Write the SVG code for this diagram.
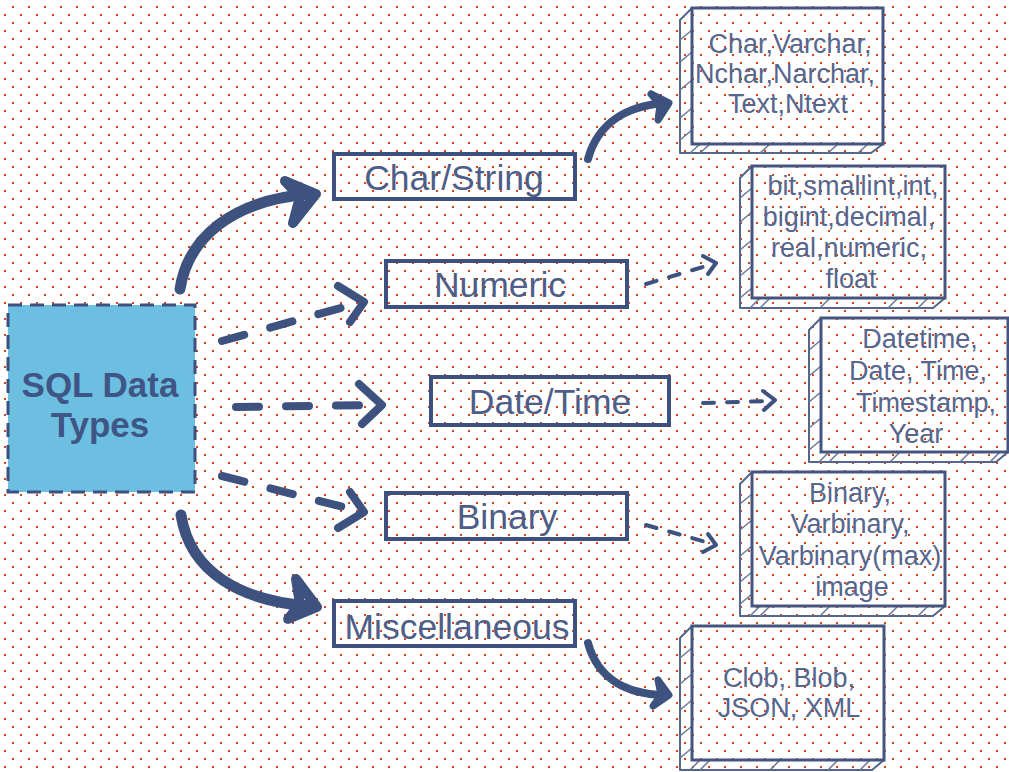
<svg xmlns="http://www.w3.org/2000/svg" width="1009" height="772" viewBox="0 0 1009 772">
  <defs>
    <pattern id="dots" width="16" height="16" patternUnits="userSpaceOnUse">
      <rect x="12" y="6" width="2" height="2" fill="#d4441c"/>
      <rect x="4" y="14" width="2" height="2" fill="#d4441c"/>
    </pattern>
    <style>
      .lbl{fill:none;stroke:#3e5080;stroke-width:4}
      .lt{font-family:"Liberation Sans",Arial,sans-serif;font-size:35.5px;fill:#4e5e88;text-anchor:middle}
      .rt{font-family:"Liberation Sans",Arial,sans-serif;font-size:27px;fill:#56668e;text-anchor:middle}
      .face{fill:none;stroke:#44557f;stroke-width:3}
      .slab{fill:none;stroke:#55668d;stroke-width:2;stroke-linejoin:round}
      .hatch{fill:none;stroke:#6a7898;stroke-width:1.5}
      .thick{fill:none;stroke:#3e5280;stroke-linecap:round;stroke-linejoin:round}
      .dash1{fill:none;stroke:#3e5280;stroke-width:8;stroke-linecap:round;stroke-dasharray:23 27}
      .dash2{fill:none;stroke:#3e5280;stroke-width:4;stroke-linecap:round;stroke-dasharray:11 13}
      .head1{fill:none;stroke:#3e5280;stroke-width:8;stroke-linecap:round;stroke-linejoin:round}
      .head2{fill:none;stroke:#3e5280;stroke-width:4;stroke-linecap:round;stroke-linejoin:round}
    </style>
  </defs>
  <rect width="1009" height="772" fill="#ffffff"/>
  <rect width="1009" height="772" fill="url(#dots)"/>

  <g id="connectors">
    <path class="thick" stroke-width="11" d="M180,289 C188,238 232,200 310,194"/>
    <polyline class="thick" stroke-width="10" fill="#3e5280" points="285,181 316,194 293,223 300,197 285,181"/>
    <path class="thick" stroke-width="11" d="M181,515 C190,572 240,601 310,606"/>
    <polyline class="thick" stroke-width="10" fill="#3e5280" points="296,579 317,607 288,619 300,604 296,579"/>
    <path class="thick" stroke-width="8" d="M588,159 C598,122 628,106 664,103"/>
    <polyline class="thick" stroke-width="7" fill="#3e5280" points="651,94 669,103 658,120 660,105 651,94"/>
    <path class="thick" stroke-width="8" d="M588,643 C598,680 628,694 664,695"/>
    <polyline class="thick" stroke-width="7" fill="#3e5280" points="658,680 669,695 653,706 661,695 658,680"/>
    <path class="dash1" d="M222,341 L355,304"/>
    <polyline class="head1" points="338,286 364,302 350,322"/>
    <path class="dash1" d="M236,407 L375,405"/>
    <polyline class="head1" points="359,384 382,405 362,424"/>
    <path class="dash1" d="M222,476 L355,510"/>
    <polyline class="head1" points="350,492 364,512 338,528"/>
    <path class="dash2" d="M646,284 L713,264"/>
    <polyline class="head2" points="703,256 716,263 708,274"/>
    <path class="dash2" d="M703,403 L772,401"/>
    <polyline class="head2" points="763,391 775,400 764,410"/>
    <path class="dash2" d="M646,525 L713,544"/>
    <polyline class="head2" points="708,534 716,545 703,552"/>
  </g>

  <g id="sql-data-types">
    <rect x="8" y="305" width="187" height="187" fill="#6cbfe0" stroke="#3e5080" stroke-width="3" stroke-dasharray="14 8"/>
    <text x="100" y="397" font-family="Liberation Sans, Arial, sans-serif" font-size="35" font-weight="bold" fill="#3f5585" text-anchor="middle">SQL Data</text>
    <text x="100" y="437" font-family="Liberation Sans, Arial, sans-serif" font-size="35" font-weight="bold" fill="#3f5585" text-anchor="middle">Types</text>
  </g>

  <g id="char-string">
    <rect class="lbl" x="334" y="154" width="241" height="45"/>
    <text class="lt" x="454" y="190">Char/String</text>
  </g>
  <g id="numeric">
    <rect class="lbl" x="386" y="261" width="241" height="46"/>
    <text class="lt" x="500" y="297">Numeric</text>
  </g>
  <g id="date-time">
    <rect class="lbl" x="431" y="377" width="238" height="48"/>
    <text class="lt" x="550" y="414">Date/Time</text>
  </g>
  <g id="binary">
    <rect class="lbl" x="386" y="493" width="241" height="46"/>
    <text class="lt" x="507" y="529">Binary</text>
  </g>
  <g id="miscellaneous">
    <rect class="lbl" x="334" y="601" width="241" height="45"/>
    <text class="lt" x="457" y="639">Miscellaneous</text>
  </g>

  <g id="char-types">
    <path class="slab" d="M692,8 L680,20 L680,153 L871,153 L883,144"/>
    <path class="hatch" d="M680,40 L692,30 M680,62 L692,52 M680,90 L692,80 M680,118 L692,108 M680,140 L692,130 M690,153 L700,144 M700,153 L710,144 M760,153 L770,144 M828,153 L838,144 M858,153 L868,144"/>
    <rect class="face" x="692" y="8" width="191" height="136"/>
    <text class="rt" x="790" y="53">Char,Varchar,</text>
    <text class="rt" x="785" y="83">Nchar,Narchar,</text>
    <text class="rt" x="788" y="113">Text,Ntext</text>
  </g>
  <g id="numeric-types">
    <path class="slab" d="M752,166 L740,178 L740,308 L933,308 L945,298"/>
    <path class="hatch" d="M740,198 L752,188 M740,222 L752,212 M740,250 L752,240 M740,276 L752,266 M740,298 L752,288 M750,308 L760,298 M760,308 L770,298 M820,308 L830,298 M888,308 L898,298 M918,308 L928,298"/>
    <rect class="face" x="752" y="166" width="193" height="132"/>
    <text class="rt" x="853" y="195">bit,smallint,int,</text>
    <text class="rt" x="849" y="226">bigint,decimal,</text>
    <text class="rt" x="849" y="257">real,numeric,</text>
    <text class="rt" x="851" y="288">float</text>
  </g>
  <g id="datetime-types">
    <path class="slab" d="M821,318 L809,330 L809,462 L996,462 L1008,452"/>
    <path class="hatch" d="M809,350 L821,340 M809,376 L821,366 M809,402 L821,392 M809,428 L821,418 M809,450 L821,440 M819,462 L829,452 M829,462 L839,452 M890,462 L900,452 M960,462 L970,452 M990,462 L1000,452"/>
    <rect class="face" x="821" y="318" width="187" height="134"/>
    <text class="rt" x="920" y="348">Datetime,</text>
    <text class="rt" x="918" y="380">Date, Time,</text>
    <text class="rt" x="926" y="412">Timestamp,</text>
    <text class="rt" x="916" y="443">Year</text>
  </g>
  <g id="binary-types">
    <path class="slab" d="M752,472 L740,484 L740,616 L933,616 L945,606"/>
    <path class="hatch" d="M740,504 L752,494 M740,530 L752,520 M740,556 L752,546 M740,582 L752,572 M740,604 L752,594 M750,616 L760,606 M760,616 L770,606 M820,616 L830,606 M888,616 L898,606 M918,616 L928,606"/>
    <rect class="face" x="752" y="472" width="193" height="134"/>
    <text class="rt" x="850" y="502">Binary,</text>
    <text class="rt" x="850" y="533">Varbinary,</text>
    <text class="rt" x="850" y="565">Varbinary(max)</text>
    <text class="rt" x="852" y="596">image</text>
  </g>
  <g id="misc-types">
    <path class="slab" d="M692,626 L680,638 L680,770 L872,770 L884,760"/>
    <path class="hatch" d="M680,658 L692,648 M680,684 L692,674 M680,710 L692,700 M680,736 L692,726 M680,758 L692,748 M690,770 L700,760 M700,770 L710,760 M770,770 L780,760 M828,770 L838,760 M860,770 L870,760"/>
    <rect class="face" x="692" y="626" width="192" height="134"/>
    <text class="rt" x="789" y="687">Clob, Blob,</text>
    <text class="rt" x="789" y="717">JSON, XML</text>
  </g>
</svg>
